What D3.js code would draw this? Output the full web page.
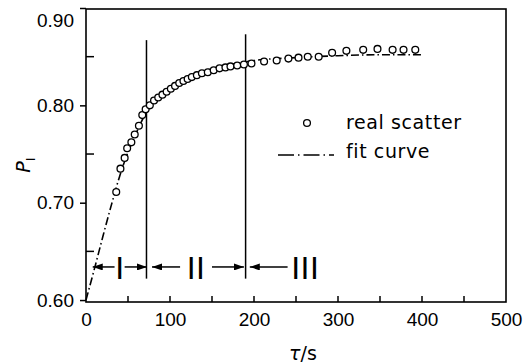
<!DOCTYPE html>
<html>
<head>
<meta charset="utf-8">
<script src="https://cdn.jsdelivr.net/npm/d3@7"></script>
<style>
  body { margin:0; background:#fff; }
  svg { display:block; font-family:"DejaVu Sans", sans-serif; }
</style>
</head>
<body>
<svg id="chart" width="528" height="364"></svg>
<script>
// measured scatter (tau in s, P_I)
var scatterTau=[36,41,46,49,54,58,63,67,71,76,81,86,91,96,101,106,111,116,121,126,132,138,145,152,159,166,172,180,188,197,212,227,241,253,264,277,293,310,330,347,365,378,392];
var scatterP=[0.711,0.735,0.746,0.756,0.762,0.770,0.779,0.790,0.796,0.800,0.805,0.808,0.811,0.814,0.817,0.820,0.823,0.825,0.827,0.829,0.831,0.833,0.834,0.836,0.838,0.839,0.840,0.841,0.842,0.843,0.845,0.846,0.848,0.849,0.850,0.850,0.854,0.856,0.857,0.858,0.857,0.857,0.857];

// fit curve
var fitTau=[0,10,20,30,40,50,60,70,80,90,100,120,140,160,180,200,250,300,350,400];
var fitP=[0.600,0.632,0.665,0.697,0.727,0.752,0.772,0.790,0.803,0.812,0.819,0.828,0.835,0.840,0.843,0.846,0.849,0.851,0.852,0.852];

var xTicks=[0,100,200,300,400,500];
var xMinor=[50,100,150,200,250,300,350,400,450];
var yTicks=[0.60,0.70,0.80,0.90];
var yMinor=[0.65,0.75,0.85];

// stage boundaries and the arrows between them
var boundTau=[72,190];
var boundTop=[0.867,0.873];
var boundBottom=0.622;
var arrowFrom=[34,46,112,150,240];
var arrowTo=[8,72.6,78.6,188,195];
var arrowP=0.634;
var stageLabels=['I','II','III'];
var stageTau=[40.5,131,261];

var svg=d3.select('#chart');
var m_left=86, m_right=506, m_top=8, m_bottom=302;

var x=d3.scaleLinear().domain([0,500]).range([m_left,m_right]);
var y=d3.scaleLinear().domain([0.598,0.90]).range([m_bottom,m_top]);

svg.append('defs').append('marker')
    .attr('id','head')
    .attr('viewBox','0 0 10 7')
    .attr('refX',10).attr('refY',3.5)
    .attr('markerWidth',10).attr('markerHeight',7)
    .attr('markerUnits','userSpaceOnUse')
    .attr('orient','auto')
    .append('path').attr('d','M0,0 L10,3.5 L0,7 Z').attr('fill','#000');

// frame
svg.append('rect')
    .attr('x',m_left).attr('y',m_top+1)
    .attr('width',m_right-m_left).attr('height',m_bottom-m_top-1)
    .attr('fill','none').attr('stroke','#000').attr('stroke-width',1.6);

// bottom axis, ticks point inward
var xAxis=d3.axisBottom(x).tickValues(xTicks).tickSize(0).tickPadding(11).tickFormat(d3.format('d'));
var gx=svg.append('g').attr('transform','translate(0,'+m_bottom+')').call(xAxis);
gx.select('.domain').remove();
gx.selectAll('text').style('font-size','19px').attr('fill','#000');
svg.selectAll('.xminor').data(xMinor).enter().append('line')
    .attr('x1',function(d){return x(d);}).attr('x2',function(d){return x(d);})
    .attr('y1',m_bottom).attr('y2',m_bottom-6)
    .attr('stroke','#000').attr('stroke-width',1.5);

// left axis: labelled ticks outward, half steps inward
var yAxis=d3.axisLeft(y).tickValues(yTicks).tickSize(6).tickPadding(6).tickFormat(d3.format('.2f'));
var gy=svg.append('g').attr('transform','translate('+m_left+',0)').call(yAxis);
gy.select('.domain').remove();
gy.selectAll('line').attr('stroke-width',1.5);
gy.selectAll('text').style('font-size','19px').attr('fill','#000')
    .attr('y',function(d){return d==0.9?12:0;});
svg.selectAll('.yminor').data(yMinor).enter().append('line')
    .attr('x1',m_left).attr('x2',m_left+8)
    .attr('y1',function(d){return y(d);}).attr('y2',function(d){return y(d);})
    .attr('stroke','#000').attr('stroke-width',1.5);

// fit curve (dash-dot)
var fitData=fitTau.map(function(t,i){return {x:t,y:fitP[i]};});
var line=d3.line()
    .x(function(d){return x(d.x);})
    .y(function(d){return y(d.y);})
    .curve(d3.curveMonotoneX);
svg.append('path')
    .attr('d',line(fitData))
    .attr('fill','none').attr('stroke','#000').attr('stroke-width',1.6)
    .attr('stroke-dasharray','8,3,1.5,3');

// stage boundaries
svg.selectAll('.bound').data(boundTau).enter().append('line')
    .attr('x1',function(d){return x(d);}).attr('x2',function(d){return x(d);})
    .attr('y1',function(d,i){return y(boundTop[i]);}).attr('y2',y(boundBottom))
    .attr('stroke','#000').attr('stroke-width',1.5);

// scatter
svg.selectAll('.pt').data(scatterTau).enter().append('circle')
    .attr('cx',function(d){return x(d);})
    .attr('cy',function(d,i){return y(scatterP[i]);})
    .attr('r',3.4)
    .attr('fill','#fff').attr('stroke','#000').attr('stroke-width',1.3);

// stage arrows
svg.selectAll('.arrow').data(arrowFrom).enter().append('line')
    .attr('x1',function(d){return x(d);})
    .attr('x2',function(d,i){return x(arrowTo[i]);})
    .attr('y1',y(arrowP)).attr('y2',y(arrowP))
    .attr('stroke','#000').attr('stroke-width',1.5)
    .attr('marker-end','url(#head)');

svg.selectAll('.stage').data(stageLabels).enter().append('text')
    .attr('x',function(d,i){return x(stageTau[i]);})
    .attr('y',y(arrowP)+12)
    .attr('text-anchor','middle')
    .style('font-family','"Liberation Sans", sans-serif')
    .style('font-size','32px')
    .style('letter-spacing','0.5px')
    .text(function(d){return d;});

// legend
svg.append('circle').attr('cx',307).attr('cy',123).attr('r',3.4)
    .attr('fill','#fff').attr('stroke','#000').attr('stroke-width',1.3);
svg.append('text').attr('x',346).attr('y',129).style('font-size','19px').style('letter-spacing','0.6px').text('real scatter');
svg.append('line').attr('x1',278).attr('x2',334).attr('y1',155).attr('y2',155)
    .attr('stroke','#000').attr('stroke-width',1.6).attr('stroke-dasharray','16,4,1.5,4');
svg.append('text').attr('x',346).attr('y',158).style('font-size','19px').style('letter-spacing','0.6px').text('fit curve');

// axis titles
svg.append('text').attr('x',303).attr('y',360).attr('text-anchor','middle')
    .style('font-size','19px')
    .html('<tspan font-style="italic">τ</tspan>/s');
var yl=svg.append('text').attr('transform','translate(30,165) rotate(-90)')
    .attr('text-anchor','middle').style('font-size','19px');
yl.append('tspan').attr('font-style','italic').text('P');
yl.append('tspan').attr('dy',5).style('font-size','13px').text('I');
</script>
</body>
</html>
